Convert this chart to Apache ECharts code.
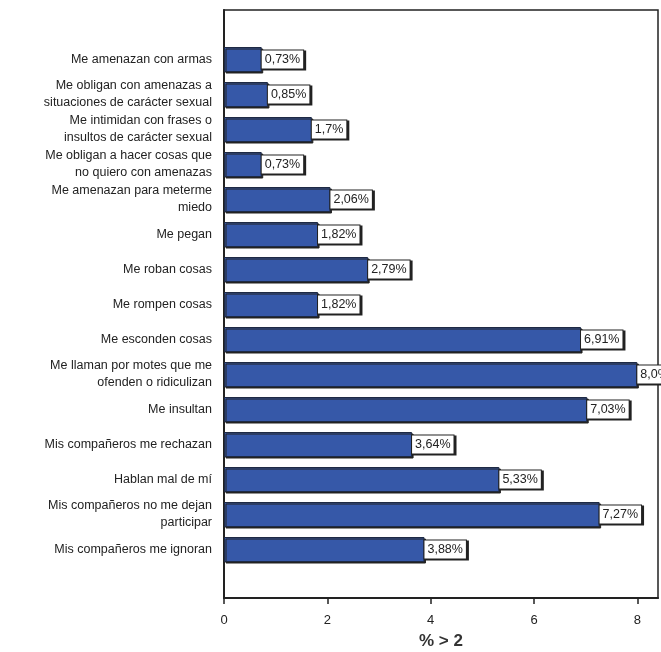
<!DOCTYPE html>
<html>
<head><meta charset="utf-8">
<script src="https://cdn.jsdelivr.net/npm/echarts@6/dist/echarts.min.js"></script>
<style>html,body{margin:0;background:#fff}#c{width:661px;height:652px}</style>
</head>
<body>
<div id="c"></div>
<script>
var categories = [
  'Me amenazan con armas',
  'Me obligan con amenazas a\nsituaciones de carácter sexual',
  'Me intimidan con frases o\ninsultos de carácter sexual',
  'Me obligan a hacer cosas que\nno quiero con amenazas',
  'Me amenazan para meterme\nmiedo',
  'Me pegan',
  'Me roban cosas',
  'Me rompen cosas',
  'Me esconden cosas',
  'Me llaman por motes que me\nofenden o ridiculizan',
  'Me insultan',
  'Mis compañeros me rechazan',
  'Hablan mal de mí',
  'Mis compañeros no me dejan\nparticipar',
  'Mis compañeros me ignoran'
];
var values = [0.73, 0.85, 1.7, 0.73, 2.06, 1.82, 2.79, 1.82, 6.91, 8.0, 7.03, 3.64, 5.33, 7.27, 3.88];
var valueLabels = ['0,73%', '0,85%', '1,7%', '0,73%', '2,06%', '1,82%', '2,79%', '1,82%', '6,91%', '8,0%', '7,03%', '3,64%', '5,33%', '7,27%', '3,88%'];

var chart = echarts.init(document.getElementById('c'));
var font = 'Liberation Sans, Arial, sans-serif';
chart.setOption({
  animation: false,
  grid: [
    {left: 224, right: 3, top: 42, height: 525, outerBoundsMode: 'none'},
    {left: 224, right: 3, top: 10, height: 588, outerBoundsMode: 'none',
     show: true, borderColor: '#222', borderWidth: 1.5}
  ],
  xAxis: [
    {gridIndex: 0, type: 'value', min: 0, max: 8.4, show: false},
    {gridIndex: 1, type: 'value', min: 0, max: 8.4, interval: 2,
     name: '% > 2', nameLocation: 'middle', nameGap: 35,
     nameTextStyle: {fontFamily: font, fontSize: 17, fontWeight: 'bold', color: '#333'},
     axisLine: {lineStyle: {color: '#222', width: 2}},
     axisTick: {length: 6, lineStyle: {color: '#222', width: 1.5}},
     axisLabel: {fontFamily: font, fontSize: 13, color: '#222', showMaxLabel: false, margin: 16},
     splitLine: {show: false}}
  ],
  yAxis: [
    {gridIndex: 0, type: 'category', data: categories, inverse: true,
     axisLine: {show: false},
     axisTick: {alignWithLabel: true, length: 6, lineStyle: {color: '#222', width: 2}},
     axisLabel: {fontFamily: font, fontSize: 12.5, color: '#222', align: 'right', lineHeight: 17, margin: 12}},
    {gridIndex: 1, type: 'value', show: true, min: 0, max: 1,
     axisLine: {show: true, lineStyle: {color: '#222', width: 2}},
     axisTick: {show: false}, axisLabel: {show: false}, splitLine: {show: false}}
  ],
  series: [{
    type: 'bar', xAxisIndex: 0, yAxisIndex: 0,
    data: values, barWidth: 25,
    itemStyle: {color: '#3658a8', borderColor: '#1e2a44', borderWidth: 1,
      shadowColor: '#222', shadowOffsetX: 1.5, shadowOffsetY: 1.5},
    label: {show: true, position: 'right', distance: 0,
      formatter: function (p) { return valueLabels[p.dataIndex]; },
      fontFamily: font, fontSize: 12.5, color: '#222',
      backgroundColor: '#fff', borderColor: '#222', borderWidth: 1,
      padding: [3, 3, 2, 3],
      shadowColor: '#222', shadowOffsetX: 2, shadowOffsetY: 1}
  }]
});
</script>
</body>
</html>
